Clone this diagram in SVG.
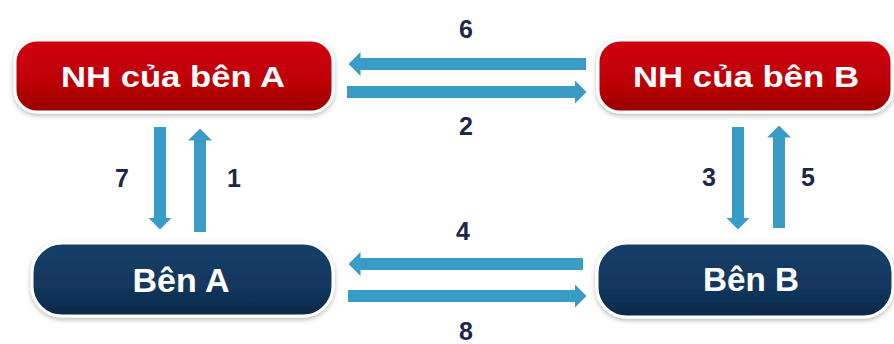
<svg xmlns="http://www.w3.org/2000/svg" width="894" height="344" viewBox="0 0 894 344">
  <defs>
    <linearGradient id="redFill" x1="0" y1="0" x2="0" y2="1">
      <stop offset="0" stop-color="#d0000a"/>
      <stop offset="0.6" stop-color="#bd0006"/>
      <stop offset="1" stop-color="#980000"/>
    </linearGradient>
    <linearGradient id="navyFill" x1="0" y1="0" x2="0" y2="1">
      <stop offset="0" stop-color="#173f69"/>
      <stop offset="0.6" stop-color="#12375e"/>
      <stop offset="1" stop-color="#0b2847"/>
    </linearGradient>
    <filter id="soft" x="-10%" y="-20%" width="120%" height="150%">
      <feDropShadow dx="0" dy="2" stdDeviation="2.5" flood-color="#000" flood-opacity="0.28"/>
    </filter>
    <marker id="head" viewBox="0 0 12 24" refX="0.5" refY="12" markerWidth="12" markerHeight="24" markerUnits="userSpaceOnUse" orient="auto">
      <path d="M0,0 L12,12 L0,24 z" fill="#3a9bc6"/>
    </marker>
  </defs>
  <style>
    .box { stroke: #ffffff; stroke-width: 3; filter: url(#soft); }
    .bank { fill: url(#redFill); }
    .party { fill: url(#navyFill); }
    .title { font-family: "Liberation Sans", Arial, sans-serif; font-weight: bold; fill: #ffffff; text-anchor: middle; }
    .flow { stroke: #3a9bc6; stroke-width: 12; fill: none; marker-end: url(#head); }
    .num { font-family: "Liberation Sans", Arial, sans-serif; font-weight: bold; font-size: 25px; fill: #1e2749; text-anchor: middle; }
  </style>
  <rect width="894" height="344" fill="#ffffff"/>

  <!-- flows between the parties and their banks -->
  <g id="connectors">
    <line class="flow" x1="586" y1="64" x2="360" y2="64"/>
    <line class="flow" x1="347" y1="92" x2="575" y2="92"/>
    <line class="flow" x1="583" y1="264" x2="360" y2="264"/>
    <line class="flow" x1="348" y1="296" x2="575" y2="296"/>
    <line class="flow" x1="160" y1="127" x2="160" y2="218"/>
    <line class="flow" x1="200" y1="232" x2="200" y2="140"/>
    <line class="flow" x1="738" y1="127" x2="738" y2="218"/>
    <line class="flow" x1="779" y1="228" x2="779" y2="137"/>
    <text class="num" x="466" y="38">6</text>
    <text class="num" x="466" y="135">2</text>
    <text class="num" x="463" y="240">4</text>
    <text class="num" x="466" y="340">8</text>
    <text class="num" x="122" y="187">7</text>
    <text class="num" x="234" y="187">1</text>
    <text class="num" x="709" y="186">3</text>
    <text class="num" x="808" y="186">5</text>
  </g>

  <g id="bankA">
    <rect class="box bank" x="15" y="40" width="318" height="72" rx="22"/>
    <text class="title" x="173" y="87" font-size="30" textLength="224" lengthAdjust="spacingAndGlyphs">NH của bên A</text>
  </g>
  <g id="bankB">
    <rect class="box bank" x="598" y="40" width="294" height="72" rx="22"/>
    <text class="title" x="746" y="87" font-size="30" textLength="226" lengthAdjust="spacingAndGlyphs">NH của bên B</text>
  </g>
  <g id="partyA">
    <rect class="box party" x="32" y="243" width="301" height="73" rx="30"/>
    <text class="title" x="181" y="292" font-size="33" textLength="97" lengthAdjust="spacingAndGlyphs">Bên A</text>
  </g>
  <g id="partyB">
    <rect class="box party" x="597" y="243" width="296" height="74" rx="30"/>
    <text class="title" x="751" y="291" font-size="33" textLength="96" lengthAdjust="spacingAndGlyphs">Bên B</text>
  </g>
</svg>
